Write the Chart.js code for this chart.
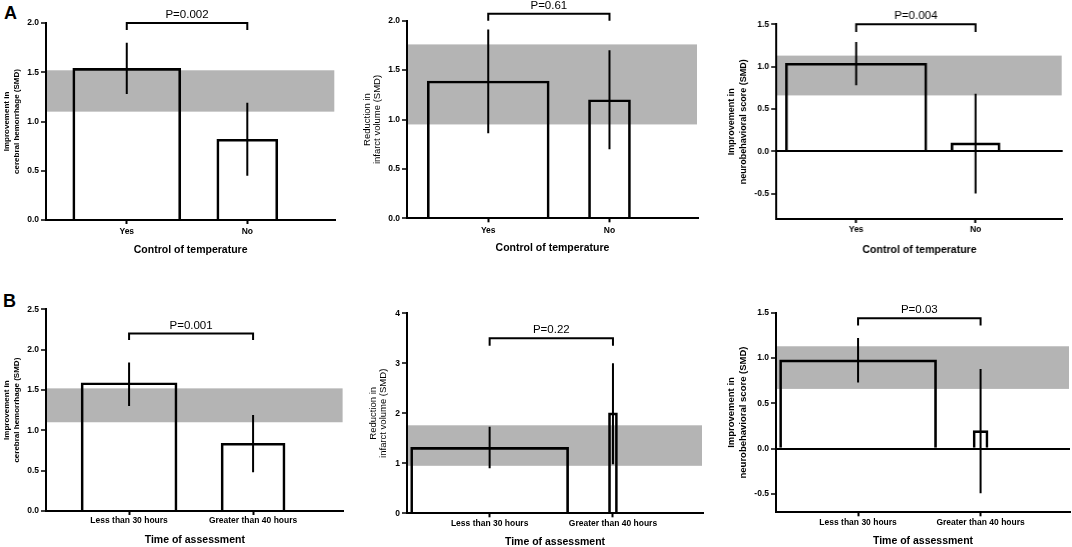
<!DOCTYPE html>
<html>
<head>
<meta charset="utf-8">
<script src="https://cdn.jsdelivr.net/npm/chart.js@4.4.1/dist/chart.umd.min.js"></script>
<style>
  html, body { margin: 0; padding: 0; background: #fff; }
  body { width: 1072px; height: 547px; position: relative; overflow: hidden; }
  .panel { position: absolute; }
  .letter { position: absolute; font: bold 18px/1 "Liberation Sans", Arial, sans-serif; color: #000; }
</style>
</head>
<body>
<div class="letter" style="left:4px; top:4px;">A</div>
<div class="letter" style="left:3px; top:292px;">B</div>

<script>
// category labels
const tempLabels = ['Yes', 'No'];
const timeLabels = ['Less than 30 hours', 'Greater than 40 hours'];

// pooled estimate bands (lower, upper)
const hemBand = [1.10, 1.52];
const infBand = [0.95, 1.76];
const neuBand = [0.66, 1.13];

// A: control of temperature
const hemTempSMD = [1.54, 0.82];
const hemTempLow = [1.28, 0.45];
const hemTempHigh = [1.80, 1.19];

const infTempSMD = [1.39, 1.20];
const infTempLow = [0.86, 0.70];
const infTempHigh = [1.91, 1.70];

const neuTempSMD = [1.04, 0.10];
const neuTempLow = [0.78, -0.50];
const neuTempHigh = [1.29, 0.68];

// B: time of assessment
const hemTimeSMD = [1.59, 0.84];
const hemTimeLow = [1.30, 0.48];
const hemTimeHigh = [1.84, 1.19];

const infTimeSMD = [1.32, 2.01];
const infTimeLow = [0.90, 0.98];
const infTimeHigh = [1.73, 3.00];

const neuTimeSMD = [0.98, 0.20];
const neuTimeLow = [0.73, -0.49];
const neuTimeHigh = [1.22, 0.88];

// p values
const tempP = ['P=0.002', 'P=0.61', 'P=0.004'];
const timeP = ['P=0.001', 'P=0.22', 'P=0.03'];

// y tick values
const hemTicksA = [0, 0.5, 1.0, 1.5, 2.0];
const hemTicksB = [0, 0.5, 1.0, 1.5, 2.0, 2.5];
const infTicksA = [0, 0.5, 1.0, 1.5, 2.0];
const infTicksB = [0, 1, 2, 3, 4];
const neuTicks = [-0.5, 0, 0.5, 1.0, 1.5];

const hemTitle = ['Improvement in', 'cerebral hemorrhage (SMD)'];
const infTitle = ['Reduction in', 'infarct volume (SMD)'];
const neuTitle = ['Improvement in', 'neurobehavioral score (SMD)'];

const FONT = '"Liberation Sans", Arial, sans-serif';
const Y_W = 50;

const panels = [
  { labels: tempLabels, xTitle: 'Control of temperature', yTitle: hemTitle, smd: hemTempSMD, low: hemTempLow, high: hemTempHigh,
    band: hemBand, ticks: hemTicksA, yMin: 0, yMax: 2, dec: 1, pText: tempP[0], bracket: [2.0, 1.93],
    axisX: 45.7, right: 335, top: 23, bottom: 220, rowTop: 0, xH: 39, xPad: 3,
    yFont: { size: 8, weight: 'bold', lh: 10 }, titlePad: 5.3, barW: [108, 61] },
  { labels: tempLabels, xTitle: 'Control of temperature', yTitle: infTitle, smd: infTempSMD, low: infTempLow, high: infTempHigh,
    band: infBand, ticks: infTicksA, yMin: 0, yMax: 2, dec: 1, pText: tempP[1], bracket: [2.07, 2.0],
    axisX: 406.7, right: 697.7, top: 20.7, bottom: 218.3, rowTop: 0, xH: 39, xPad: 3,
    yFont: { size: 9.5, weight: 'normal', lh: 10.5 }, titlePad: 4.7, barW: [122, 42] },
  { labels: tempLabels, xTitle: 'Control of temperature', yTitle: neuTitle, smd: neuTempSMD, low: neuTempLow, high: neuTempHigh,
    band: neuBand, ticks: neuTicks, yMin: -0.8, yMax: 1.5, dec: 1, pText: tempP[2], bracket: [1.5, 1.41], zero: true,
    axisX: 776, right: 1061.7, top: 24.3, bottom: 219, rowTop: 0, xH: 39, xPad: 2,
    yFont: { size: 9, weight: 'bold', lh: 11.5 }, titlePad: 0, barW: [141, 49] },
  { labels: timeLabels, xTitle: 'Time of assessment', yTitle: hemTitle, smd: hemTimeSMD, low: hemTimeLow, high: hemTimeHigh,
    band: hemBand, ticks: hemTicksB, yMin: 0, yMax: 2.5, dec: 1, pText: timeP[0], bracket: [2.20, 2.12],
    axisX: 45.7, right: 343.3, top: 309.3, bottom: 511, rowTop: 278, xH: 36, xPad: 1,
    yFont: { size: 8, weight: 'bold', lh: 10 }, titlePad: 5.3, barW: [96, 64] },
  { labels: timeLabels, xTitle: 'Time of assessment', yTitle: infTitle, smd: infTimeSMD, low: infTimeLow, high: infTimeHigh,
    band: infBand, ticks: infTicksB, yMin: 0, yMax: 4, dec: 0, pText: timeP[1], bracket: [3.5, 3.35],
    axisX: 406.7, right: 702.7, top: 313.3, bottom: 513.3, rowTop: 278, xH: 36, xPad: 1,
    yFont: { size: 9.5, weight: 'normal', lh: 10.5 }, titlePad: 11, barW: [158, 9] },
  { labels: timeLabels, xTitle: 'Time of assessment', yTitle: neuTitle, smd: neuTimeSMD, low: neuTimeLow, high: neuTimeHigh,
    band: neuBand, ticks: neuTicks, yMin: -0.7, yMax: 1.5, dec: 1, pText: timeP[2], bracket: [1.44, 1.36], zero: true,
    axisX: 776, right: 1070, top: 312.7, bottom: 512.3, rowTop: 278, xH: 36, xPad: 1,
    yFont: { size: 9.5, weight: 'bold', lh: 11.5 }, titlePad: 0, barW: [157, 15] }
];

// grey band, error bars and the p-value bracket
function makeMarks(p) {
  return {
    id: 'smdMarks',
    beforeDraw(chart) {
      const { ctx, chartArea: a, scales: { y } } = chart;
      const t = y.getPixelForValue(p.band[1]);
      const b = y.getPixelForValue(p.band[0]);
      ctx.save();
      ctx.fillStyle = '#b4b4b4';
      ctx.fillRect(a.left + 1, t, a.right - a.left - 2, b - t);
      ctx.restore();
    },
    afterDatasetsDraw(chart) {
      const { ctx, scales: { x, y } } = chart;
      ctx.save();
      ctx.strokeStyle = '#000';
      ctx.lineWidth = 2;
      ctx.beginPath();
      p.low.forEach((lo, i) => {
        const px = x.getPixelForValue(i + 1);
        ctx.moveTo(px, y.getPixelForValue(lo));
        ctx.lineTo(px, y.getPixelForValue(p.high[i]));
      });
      const x1 = x.getPixelForValue(1);
      const x2 = x.getPixelForValue(2);
      const yt = y.getPixelForValue(p.bracket[0]);
      const yl = y.getPixelForValue(p.bracket[1]);
      ctx.moveTo(x1, yl);
      ctx.lineTo(x1, yt);
      ctx.lineTo(x2, yt);
      ctx.lineTo(x2, yl);
      ctx.stroke();
      ctx.fillStyle = '#000';
      ctx.font = '11.5px ' + FONT;
      ctx.textAlign = 'center';
      ctx.textBaseline = 'middle';
      ctx.fillText(p.pText, (x1 + x2) / 2, yt - 8);
      ctx.restore();
    }
  };
}

panels.forEach(p => {
  const left = p.axisX - Y_W;
  const box = document.createElement('div');
  box.className = 'panel';
  box.style.left = left + 'px';
  box.style.top = p.rowTop + 'px';
  box.style.width = (p.right - left + 2) + 'px';
  box.style.height = (p.bottom - p.rowTop + p.xH) + 'px';
  const canvas = document.createElement('canvas');
  box.appendChild(canvas);
  document.body.appendChild(box);

  new Chart(canvas, {
    type: 'bar',
    data: {
      datasets: p.smd.map((v, i) => ({
        data: [{ x: i + 1, y: v }],
        barThickness: p.barW[i],
        grouped: false,
        backgroundColor: 'rgba(0,0,0,0)',
        borderColor: '#000',
        borderWidth: 2
      }))
    },
    options: {
      responsive: true,
      maintainAspectRatio: false,
      animation: false,
      layout: { padding: { top: p.top - p.rowTop, right: 2, left: 0, bottom: 0 } },
      plugins: { legend: { display: false }, tooltip: { enabled: false } },
      scales: {
        x: {
          type: 'linear',
          min: 0.33,
          max: 2.73,
          offset: false,
          afterBuildTicks: s => { s.ticks = [{ value: 1 }, { value: 2 }]; },
          afterFit: s => { s.height = p.xH; },
          grid: { offset: false, drawOnChartArea: false, drawTicks: true, tickLength: 4, tickColor: '#000', tickWidth: 2 },
          border: { display: true, color: '#000', width: 2 },
          ticks: {
            autoSkip: false, maxRotation: 0, padding: p.xPad, color: '#000',
            font: { family: FONT, size: 8.5, weight: 'bold' },
            callback: (v, i) => p.labels[i]
          },
          title: {
            display: true, text: p.xTitle, color: '#000',
            font: { family: FONT, size: 10.5, weight: 'bold' },
            padding: { top: 0, bottom: p.xPad }
          }
        },
        y: {
          min: p.yMin,
          max: p.yMax,
          afterBuildTicks: s => { s.ticks = p.ticks.map(v => ({ value: v })); },
          afterFit: s => { s.width = Y_W; },
          grid: {
            drawOnChartArea: !!p.zero,
            color: c => (c.tick && c.tick.value === 0) ? '#000' : 'rgba(0,0,0,0)',
            lineWidth: 2,
            drawTicks: true, tickLength: 5, tickColor: '#000', tickWidth: 1.5
          },
          border: { display: true, color: '#000', width: 2 },
          ticks: {
            padding: 2, color: '#000',
            font: { family: FONT, size: 8.5, weight: 'bold' },
            callback: v => v.toFixed(p.dec)
          },
          title: {
            display: true, text: p.yTitle, color: '#000',
            font: { family: FONT, size: p.yFont.size, weight: p.yFont.weight, lineHeight: p.yFont.lh / p.yFont.size },
            padding: { top: p.titlePad, bottom: 0 }
          }
        }
      }
    },
    plugins: [makeMarks(p)]
  });
});
</script>
</body>
</html>
